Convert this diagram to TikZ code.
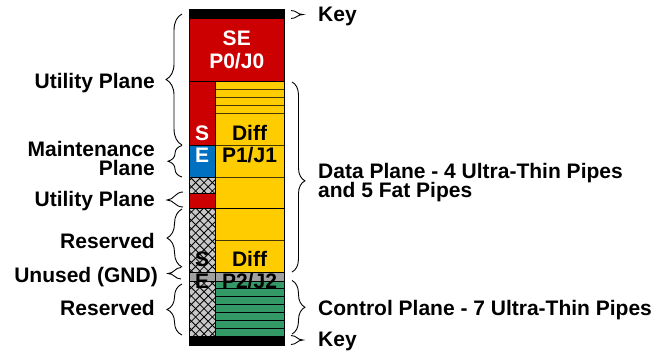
\documentclass[tikz,border=0pt]{standalone}
\usepackage{fontspec}
\setmainfont{Liberation Sans}
\usetikzlibrary{decorations.pathreplacing}
\definecolor{sered}{RGB}{204,0,0}
\definecolor{diffyel}{RGB}{255,204,0}
\definecolor{mblue}{RGB}{0,112,192}
\definecolor{cgreen}{RGB}{51,153,102}
\definecolor{gband}{RGB}{160,160,160}
\definecolor{chk}{RGB}{200,200,200}
\definecolor{stripe}{RGB}{70,55,0}
\begin{document}
\begin{tikzpicture}[x=1bp,y=-1bp,
  lbl/.style={font=\fontsize{21bp}{20bp}\selectfont\bfseries, inner sep=0pt},
  wlbl/.style={lbl, text=white},
  brc/.style={decorate, decoration={brace, amplitude=#1}, line width=0.9bp},
  sbrc/.style={line width=0.9bp},
  stripeline/.style={draw=stripe, line width=0.9bp},
  outline/.style={draw=black, line width=1bp}]
\useasboundingbox (0,0) rectangle (659,351);
% ---- column ----
\fill[black] (189.5,9.5) rectangle (284,19);
\fill[sered] (189.5,19) rectangle (284,81.5);
\fill[diffyel] (215,81.5) rectangle (284,272);
\fill[sered] (189.5,81.5) rectangle (215,145.5);
\fill[mblue] (189.5,145.5) rectangle (215,177);
\fill[sered] (189.5,193) rectangle (215,208.5);
\begin{scope}
  \clip (189.5,177) rectangle (215,193) (189.5,208.5) rectangle (215,272) (189.5,281) rectangle (215,336);
  \fill[chk] (189.5,170) rectangle (215,340);
  \foreach \c in {15,23.4,...,395} {
    \draw[black, line width=0.8bp] (\c,170) -- ++(170,170);
    \draw[black, line width=0.8bp] (\c,170) -- ++(-170,170);
  }
\end{scope}
\fill[gband] (189.5,272) rectangle (284,281);
\fill[cgreen] (215,281) rectangle (284,336);
\fill[black] (189.5,336) rectangle (284,345);
% stripes
\foreach \yy in {89.7,97.4,105.2,113,145.3,177,240.5} {
  \draw[stripeline] (215,\yy) -- (284,\yy);
}
\draw[black, line width=1.6bp] (189.5,208.5) -- (284,208.5);
\foreach \yy in {288.8,296.6,304.5,312.3,320.2,328} {
  \draw[black, line width=0.8bp] (215,\yy) -- (284,\yy);
}
\draw[black, line width=0.8bp] (189.5,272) -- (284,272) (189.5,281) -- (284,281);
\draw[black, line width=0.8bp] (189.5,177) -- (215,177) (189.5,193) -- (215,193) (189.5,145.5) -- (215,145.5);
\draw[black, line width=1bp] (189.5,81.5) -- (284,81.5) (215,81.5) -- (215,336);
\draw[outline] (189.5,9.5) rectangle (284,345);
% ---- texts in column ----
\node[wlbl, anchor=base] (se) at (236.75,45.5) {SE};
\node[wlbl, anchor=base] (p0) at (236.75,68) {P0/J0};
\node[wlbl, anchor=base] (s1) at (202.25,140) {S};
\node[wlbl, anchor=base] (e1) at (202.25,162) {E};
\node[lbl, anchor=base] (d1) at (249.5,140) {Diff};
\node[lbl, anchor=base] (p1) at (249.5,162) {P1/J1};
\node[lbl, anchor=base] (s2) at (202.25,266) {S};
\node[lbl, anchor=base] (d2) at (249.5,266) {Diff};
\node[lbl, anchor=base] (e2) at (202.25,288) {E};
\node[lbl, anchor=base] (p2) at (249.5,288) {P2/J2};
% ---- left labels ----
\node[lbl, anchor=base east] (up1) at (155,88) {Utility Plane};
\node[lbl, font=\fontsize{21bp}{18.5bp}\selectfont\bfseries, align=right, anchor=north east] (mp) at (155,141.2) {Maintenance\\Plane};
\node[lbl, anchor=base east] (up2) at (155,206.5) {Utility Plane};
\node[lbl, anchor=base east] (rs1) at (155,248) {Reserved};
\node[lbl, anchor=base east] (un) at (158,282) {Unused (GND)};
\node[lbl, anchor=base east] (rs2) at (155,315) {Reserved};
% ---- right labels ----
\node[lbl, anchor=base west] (k1) at (318,21.5) {Key};
\node[lbl, anchor=base west] (dp1) at (318,178) {Data Plane - 4 Ultra-Thin Pipes};
\node[lbl, anchor=base west] (dp2) at (318,197) {and 5 Fat Pipes};
\node[lbl, anchor=base west] (cp) at (318,315) {Control Plane - 7 Ultra-Thin Pipes};
\node[lbl, anchor=base west] (k2) at (318,346.5) {Key};
% ---- left braces ----
\coordinate (lb1a) at (182,145);
\coordinate (lb1b) at (182,14);
\draw[brc=16] (lb1a) -- (lb1b);
\coordinate (lb2a) at (182,177);
\coordinate (lb2b) at (182,145.5);
\draw[brc=14] (lb2a) -- (lb2b);
\draw[sbrc] (183,192) .. controls (175,192) and (174,200) .. (167,200) .. controls (174,200) and (175,207) .. (183,207);
\coordinate (lb4a) at (182,267);
\coordinate (lb4b) at (182,209);
\draw[brc=15] (lb4a) -- (lb4b);
\draw[sbrc] (181,267.5) .. controls (175,267.5) and (174,273.5) .. (168,273.5) .. controls (174,273.5) and (175,279) .. (181,279);
\coordinate (lb6a) at (182,335);
\coordinate (lb6b) at (182,284);
\draw[brc=15] (lb6a) -- (lb6b);
% ---- right braces ----
\draw[sbrc] (291,10.5) .. controls (297,10.5) and (297,14.5) .. (303,14.5) .. controls (297,14.5) and (297,18.5) .. (291,18.5);
\coordinate (rb1a) at (292,82);
\coordinate (rb1b) at (292,272);
\draw[decorate, decoration={brace, amplitude=13, aspect=0.52}, line width=0.9bp] (rb1a) -- (rb1b);
\coordinate (rb2a) at (292,280.5);
\coordinate (rb2b) at (292,334);
\draw[brc=13] (rb2a) -- (rb2b);
\draw[sbrc] (291,335.5) .. controls (297,335.5) and (297,340) .. (303,340) .. controls (297,340) and (297,344.5) .. (291,344.5);
\end{tikzpicture}
\end{document}
